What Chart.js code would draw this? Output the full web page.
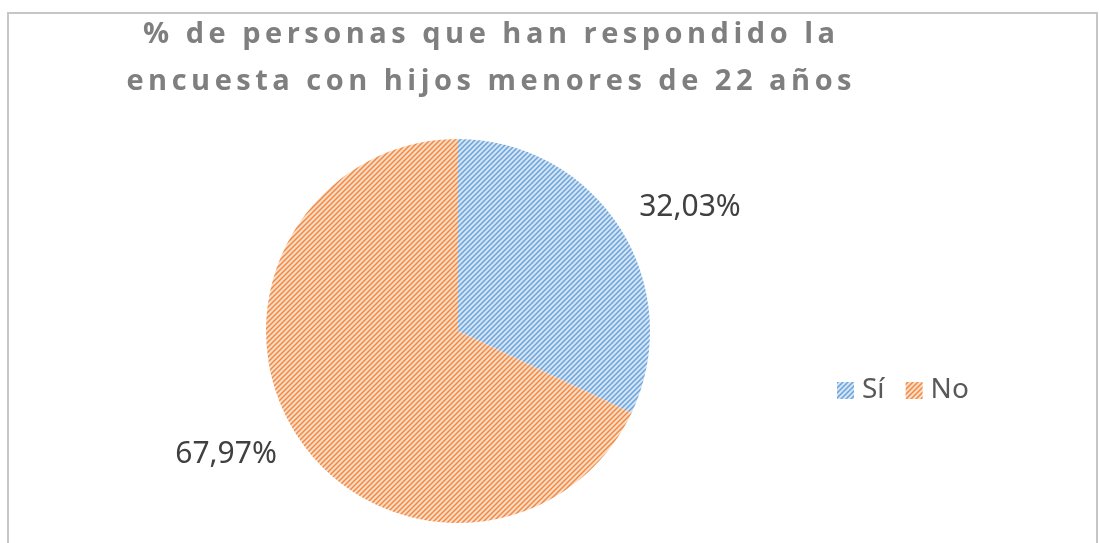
<!DOCTYPE html>
<html>
<head>
<meta charset="utf-8">
<script src="https://cdn.jsdelivr.net/npm/chart.js@4.4.1/dist/chart.umd.min.js"></script>
<style>
  html, body { margin: 0; padding: 0; background: #fff; }
  #wrap { width: 1099px; height: 543px; position: relative; }
</style>
</head>
<body>
<div id="wrap"><canvas id="pie" width="1099" height="543"></canvas></div>
<script>
const categorias = ['Sí', 'No'];
const porcentajes = [32.03, 67.97];
const titulo = ['% de personas que han respondido la', 'encuesta con hijos menores de 22 años'];

// trama diagonal como en Excel
function trama(fondo, linea) {
    const n = 5;
    const c = document.createElement('canvas');
    c.width = n; c.height = n;
    const g = c.getContext('2d');
    g.fillStyle = fondo;
    g.fillRect(0, 0, n, n);
    g.strokeStyle = linea;
    g.lineWidth = 1.5;
    g.beginPath();
    g.moveTo(-1, n + 1); g.lineTo(n + 1, -1);
    g.moveTo(-1, 1); g.lineTo(1, -1);
    g.moveTo(n - 1, n + 1); g.lineTo(n + 1, n - 1);
    g.stroke();
    return g.createPattern(c, 'repeat');
}

const ctx = document.getElementById('pie').getContext('2d');
const colores = [trama('#d3e4f5', '#6ba3da'), trama('#fcdcc6', '#f0893f')];

const marco = {
    id: 'marco',
    beforeDraw(chart) {
        const c = chart.ctx;
        c.save();
        c.strokeStyle = '#c3c8c4';
        c.lineWidth = 2;
        c.beginPath();
        c.moveTo(8, 543); c.lineTo(8, 13); c.lineTo(1097, 13); c.lineTo(1097, 543);
        c.stroke();
        c.restore();
    }
};

const tituloPlugin = {
    id: 'tituloPlugin',
    afterDraw(chart) {
        const c = chart.ctx;
        c.save();
        c.fillStyle = '#7f7f7f';
        c.font = 'bold 29px "Open Sans"';
        c.textBaseline = 'alphabetic';
        c.textAlign = 'left';
        // espaciado para que la primera línea mida ~692px
        const base = c.measureText(titulo[0]).width;
        const sp = (692 - base) / (titulo[0].length - 1);
        c.letterSpacing = sp + 'px';
        const ys = [43, 90];
        titulo.forEach((t, i) => {
            const w = c.measureText(t).width - sp;
            c.fillText(t, 489 - w / 2, ys[i]);
        });
        c.restore();
    }
};

const etiquetas = {
    id: 'etiquetas',
    afterDatasetsDraw(chart) {
        const c = chart.ctx;
        const meta = chart.getDatasetMeta(0);
        c.save();
        c.fillStyle = '#404040';
        c.font = '30px "Noto Sans"';
        c.textAlign = 'center';
        c.textBaseline = 'middle';
        meta.data.forEach((arc, i) => {
            const mid = (arc.startAngle + arc.endAngle) / 2;
            const x = arc.x + Math.cos(mid) * arc.outerRadius * 1.43;
            const y = arc.y + Math.sin(mid) * arc.outerRadius * 1.2;
            c.fillText(porcentajes[i].toFixed(2).replace('.', ',') + '%', x, y);
        });
        c.restore();
    }
};

const leyenda = {
    id: 'leyenda',
    afterDraw(chart) {
        const c = chart.ctx;
        c.save();
        c.font = '28px "Noto Sans"';
        c.textBaseline = 'middle';
        c.textAlign = 'left';
        let x = 837;
        const y = 390;
        chart.data.labels.forEach((lab, i) => {
            c.fillStyle = chart.data.datasets[0].backgroundColor[i];
            c.fillRect(x, y - 8, 17, 17);
            c.fillStyle = '#595959';
            c.fillText(lab, x + 25, y);
            x += 25 + c.measureText(lab).width + 21;
        });
        c.restore();
    }
};

new Chart(ctx, {
    type: 'pie',
    data: {
        labels: categorias,
        datasets: [{
            data: porcentajes,
            backgroundColor: colores,
            borderWidth: 0
        }]
    },
    options: {
        responsive: false,
        animation: false,
        devicePixelRatio: 1,
        layout: { padding: { left: 266, right: 449, top: 139, bottom: 20 } },
        plugins: {
            legend: { display: false },
            title: { display: false },
            tooltip: { enabled: false }
        }
    },
    plugins: [marco, etiquetas, tituloPlugin, leyenda]
});
</script>
</body>
</html>
